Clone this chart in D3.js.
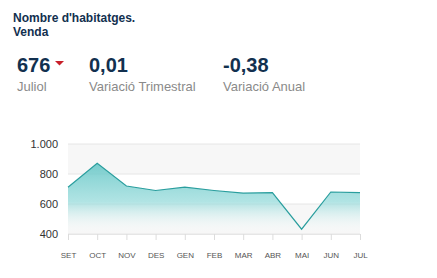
<!DOCTYPE html>
<html>
<head>
<meta charset="utf-8">
<script src="https://cdn.jsdelivr.net/npm/d3@7"></script>
<style>
	body { margin: 0; background: #fff; font-family: "Liberation Sans", Arial, sans-serif; }
	svg { display: block; }
</style>
</head>
<body>
<svg id="chart" width="437" height="278"></svg>
<script>
var months = ['SET', 'OCT', 'NOV', 'DES', 'GEN', 'FEB', 'MAR', 'ABR', 'MAI', 'JUN', 'JUL'];
var values = [712, 872, 720, 690, 712, 690, 672, 676, 432, 680, 676];
var yTicks = [400, 600, 800, 1000];
var titleLines = ["Nombre d'habitatges.", 'Venda'];
var kpiValues = ['676', '0,01', '-0,38'];
var kpiLabels = ['Juliol', 'Variació Trimestral', 'Variació Anual'];

var svg = d3.select('#chart');
var navy = '#12304f';

//title
svg.selectAll('text.title')
	.data(titleLines)
	.enter().append('text')
	.attr('class', 'title')
	.attr('x', 13)
	.attr('y', function(d, i){return 22 + i * 14;})
	.attr('font-size', 12)
	.attr('font-weight', 'bold')
	.attr('fill', navy)
	.text(function(d){return d;});

//kpi blocks
var kpiX = [17, 89, 223];
var kpi = svg.selectAll('g.kpi')
	.data(kpiValues)
	.enter().append('g')
	.attr('class', 'kpi')
	.attr('transform', function(d, i){return 'translate(' + kpiX[i] + ',0)';});

kpi.append('text')
	.attr('y', 72)
	.attr('font-size', 20)
	.attr('font-weight', 'bold')
	.attr('fill', navy)
	.text(function(d){return d;});

kpi.append('text')
	.attr('y', 91)
	.attr('font-size', 13)
	.attr('fill', '#8a8a8a')
	.text(function(d, i){return kpiLabels[i];});

//down arrow next to the first value
svg.append('path')
	.attr('d', 'M55,61 L64,61 L59.5,65.5 Z')
	.attr('fill', '#c8202a');

//chart
var x = d3.scalePoint().domain(months).range([68, 360]);
var y = d3.scaleLinear().domain([400, 1000]).range([234, 144]);

var bands = [[800, 1000], [400, 600]];
svg.selectAll('rect.band')
	.data(bands)
	.enter().append('rect')
	.attr('class', 'band')
	.attr('x', 68)
	.attr('width', 292)
	.attr('y', function(d){return y(d[1]);})
	.attr('height', function(d){return y(d[0]) - y(d[1]);})
	.attr('fill', '#f7f7f7');

svg.selectAll('line.grid')
	.data(yTicks)
	.enter().append('line')
	.attr('class', 'grid')
	.attr('x1', 68).attr('x2', 360)
	.attr('y1', function(d){return y(d);})
	.attr('y2', function(d){return y(d);})
	.attr('stroke', '#e6e6e6');

var grad = svg.append('defs').append('linearGradient')
	.attr('id', 'fillGrad')
	.attr('gradientUnits', 'userSpaceOnUse')
	.attr('x1', 0).attr('x2', 0)
	.attr('y1', y(880)).attr('y2', y(400));
grad.append('stop').attr('offset', 0).attr('stop-color', '#5ec4c4').attr('stop-opacity', 0.85);
grad.append('stop').attr('offset', 0.55).attr('stop-color', '#8fd8d8').attr('stop-opacity', 0.7);
grad.append('stop').attr('offset', 1).attr('stop-color', '#ffffff').attr('stop-opacity', 0);

var area = d3.area()
	.x(function(d, i){return x(months[i]);})
	.y0(y(400))
	.y1(function(d){return y(d);});

var line = d3.line()
	.x(function(d, i){return x(months[i]);})
	.y(function(d){return y(d);});

svg.append('path')
	.datum(values)
	.attr('d', area)
	.attr('fill', 'url(#fillGrad)');

svg.append('path')
	.datum(values)
	.attr('d', line)
	.attr('fill', 'none')
	.attr('stroke', '#2a9e9e')
	.attr('stroke-width', 1.2);

//axes
var xAxis = svg.append('g')
	.attr('transform', 'translate(0,' + y(400) + ')')
	.call(d3.axisBottom(x).tickSize(6).tickPadding(12));
xAxis.select('.domain').attr('stroke', '#e6e6e6');
xAxis.selectAll('.tick line').attr('stroke', '#dcdcdc');
xAxis.selectAll('.tick text')
	.attr('font-family', '"Liberation Sans", Arial, sans-serif')
	.attr('font-size', 8)
	.attr('fill', '#555');

var yAxis = svg.append('g')
	.attr('transform', 'translate(58,0)')
	.call(d3.axisLeft(y).tickValues(yTicks).tickSize(0).tickPadding(0)
		.tickFormat(function(d){return d3.format(',')(d).replace(',', '.');}));
yAxis.select('.domain').remove();
yAxis.selectAll('.tick text')
	.attr('font-family', '"Liberation Sans", Arial, sans-serif')
	.attr('font-size', 11)
	.attr('fill', '#333');
</script>
</body>
</html>
